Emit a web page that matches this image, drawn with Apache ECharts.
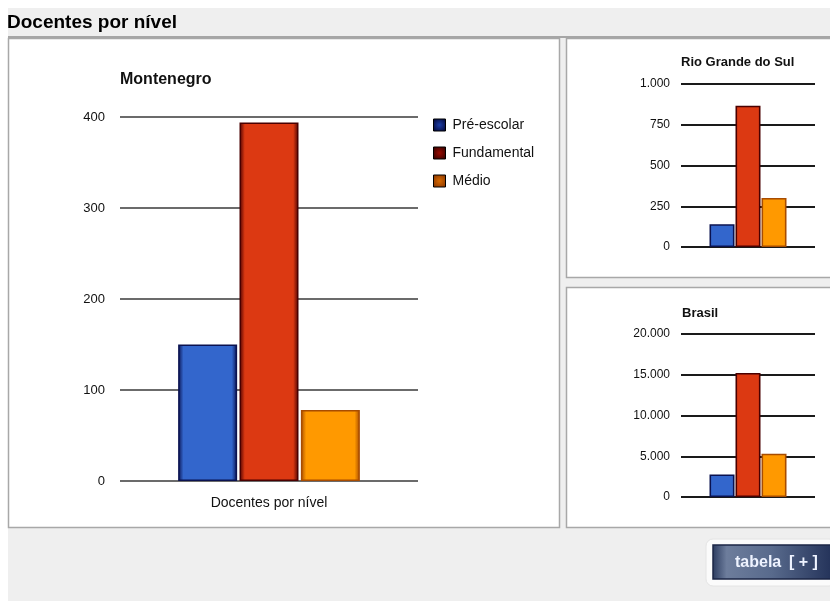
<!DOCTYPE html>
<html>
<head>
<meta charset="utf-8">
<title>Docentes por nível</title>
<script src="https://cdn.jsdelivr.net/npm/echarts@6/dist/echarts.min.js"></script>
<style>
  html, body { margin: 0; padding: 0; background: #fff; }
  #chart { width: 830px; height: 601px; }
</style>
</head>
<body>
<div id="chart"></div>
<script>
// Teaching staff by school level
const niveis = ['Pré-escolar', 'Fundamental', 'Médio'];
const categoria = ['Docentes por nível'];
const montenegro = [150, 394, 78];
const rioGrandeDoSul = [139, 867, 300];
const brasil = [2773, 15215, 5313];

const ticksMontenegro = { max: 400, interval: 100 };
const ticksRS = { max: 1000, interval: 250 };
const ticksBrasil = { max: 20000, interval: 5000 };

const FONT = '"Liberation Sans", Arial, sans-serif';

// base colour and dark edge per level
const tons = [
  { main: '#3366cc', dark: '#0a1250', icon: ['#1d3fa8', '#00002a'] },
  { main: '#dc3912', dark: '#4a0000', icon: ['#9a0a00', '#250000'] },
  { main: '#ff9900', dark: '#a84c00', icon: ['#d86a00', '#803000'] }
];

function barFill(t) {
  return new echarts.graphic.LinearGradient(0, 0, 1, 0, [
    { offset: 0, color: t.dark },
    { offset: 0.09, color: t.main },
    { offset: 0.91, color: t.main },
    { offset: 1, color: t.dark }
  ]);
}

function iconFill(t) {
  return new echarts.graphic.RadialGradient(0.5, 0.5, 0.7, [
    { offset: 0, color: t.icon[0] },
    { offset: 1, color: t.icon[1] }
  ]);
}

function milhar(v) {
  return String(v).replace(/\B(?=(\d{3})+(?!\d))/g, '.');
}

const chart = echarts.init(document.getElementById('chart'), null, { renderer: 'canvas' });

function makeSeries(values, axisIndex, barWidth) {
  return niveis.map((nome, i) => ({
    name: nome,
    type: 'bar',
    xAxisIndex: axisIndex,
    yAxisIndex: axisIndex,
    data: [values[i]],
    barWidth: barWidth,
    barGap: '4%',
    itemStyle: {
      color: barFill(tons[i]),
      borderColor: tons[i].dark,
      borderWidth: 1.5
    },
    emphasis: { disabled: true },
    z: 3
  }));
}

function yAxis(grid, ticks, fontSize, margin, lineColor, lineWidth) {
  return {
    type: 'value',
    gridIndex: grid,
    min: 0,
    max: ticks.max,
    interval: ticks.interval,
    axisLine: { show: false },
    axisTick: { show: false },
    axisLabel: {
      margin: margin,
      fontFamily: FONT,
      fontSize: fontSize,
      color: '#111',
      formatter: v => milhar(v)
    },
    splitLine: { lineStyle: { color: lineColor, width: lineWidth } }
  };
}

function xAxis(grid, showLabel) {
  return {
    type: 'category',
    gridIndex: grid,
    data: categoria,
    axisLine: { show: false },
    axisTick: { show: false },
    axisLabel: {
      show: showLabel,
      margin: 15,
      fontFamily: FONT,
      fontSize: 14,
      color: '#111'
    }
  };
}

const option = {
  backgroundColor: '#ffffff',
  animation: false,
  textStyle: { fontFamily: FONT },
  graphic: [
    // header strip and page frame
    { type: 'rect', shape: { x: 8, y: 8, width: 822, height: 593 }, style: { fill: '#efefef' }, silent: true, z: -10 },
    { type: 'rect', shape: { x: 8, y: 36, width: 822, height: 2 }, style: { fill: '#a6a6a6' }, silent: true, z: -9 },
    {
      type: 'text', left: 7, top: 13, silent: true, z: -8,
      style: { text: 'Docentes por nível', font: 'bold 19px ' + FONT, fill: '#000' }
    },
    // panels
    { type: 'rect', shape: { x: 8.5, y: 38.5, width: 551, height: 489 }, style: { fill: '#fff', stroke: '#a8a8a8', lineWidth: 1.5 }, silent: true, z: -9 },
    { type: 'rect', shape: { x: 566.5, y: 38.5, width: 270, height: 239 }, style: { fill: '#fff', stroke: '#a8a8a8', lineWidth: 1.5 }, silent: true, z: -9 },
    { type: 'rect', shape: { x: 566.5, y: 287.5, width: 270, height: 240 }, style: { fill: '#fff', stroke: '#a8a8a8', lineWidth: 1.5 }, silent: true, z: -9 },
    // table toggle button
    { type: 'rect', shape: { x: 706, y: 539, width: 130, height: 47, r: 7 }, style: { fill: '#fbfbfb', stroke: '#e4e4e4', lineWidth: 1 }, silent: true, z: -8 },
    {
      type: 'rect', shape: { x: 713, y: 545, width: 118, height: 34 }, silent: true, z: -7,
      style: {
        fill: new echarts.graphic.LinearGradient(0, 0, 1, 0, [
          { offset: 0, color: '#2a3a5e' },
          { offset: 0.12, color: '#6d7d9c' },
          { offset: 0.5, color: '#586a8c' },
          { offset: 1, color: '#24335a' }
        ]),
        stroke: '#1b2645', lineWidth: 1.5
      }
    },
    {
      type: 'text', x: 735, y: 563, silent: true, z: -6,
      style: { text: 'tabela', font: 'bold 16px ' + FONT, fill: '#eef3ff', verticalAlign: 'middle' }
    },
    {
      type: 'text', x: 789, y: 563, silent: true, z: -6,
      style: { text: '[ + ]', font: 'bold 16px ' + FONT, fill: '#eef3ff', verticalAlign: 'middle' }
    }
  ],
  title: [
    { text: 'Montenegro', left: 115, top: 67, textStyle: { fontFamily: FONT, fontSize: 16, fontWeight: 'bold', color: '#111' } },
    { text: 'Rio Grande do Sul', left: 676, top: 51, textStyle: { fontFamily: FONT, fontSize: 13, fontWeight: 'bold', color: '#111' } },
    { text: 'Brasil', left: 677, top: 302, textStyle: { fontFamily: FONT, fontSize: 13, fontWeight: 'bold', color: '#111' } }
  ],
  legend: {
    orient: 'vertical',
    left: 428,
    top: 113,
    itemWidth: 12,
    itemHeight: 12,
    itemGap: 14,
    icon: 'rect',
    selectedMode: false,
    textStyle: { fontFamily: FONT, fontSize: 14, color: '#111', padding: [0, 0, 0, 2] },
    data: niveis.map((nome, i) => ({
      name: nome,
      itemStyle: { color: iconFill(tons[i]), borderColor: '#000', borderWidth: 1 }
    }))
  },
  grid: [
    { left: 120, width: 298, top: 117, bottom: 120, containLabel: false },
    { left: 681, right: 15, top: 84, bottom: 354, containLabel: false },
    { left: 681, right: 15, top: 334, bottom: 104, containLabel: false }
  ],
  xAxis: [xAxis(0, true), xAxis(1, false), xAxis(2, false)],
  yAxis: [
    yAxis(0, ticksMontenegro, 13, 15, '#3a3a3a', 1.5),
    yAxis(1, ticksRS, 12, 11, '#1a1a1a', 2),
    yAxis(2, ticksBrasil, 12, 11, '#1a1a1a', 2)
  ],
  series: [
    ...makeSeries(montenegro, 0, 59),
    ...makeSeries(rioGrandeDoSul, 1, 25),
    ...makeSeries(brasil, 2, 25)
  ]
};

chart.setOption(option);
</script>
</body>
</html>
